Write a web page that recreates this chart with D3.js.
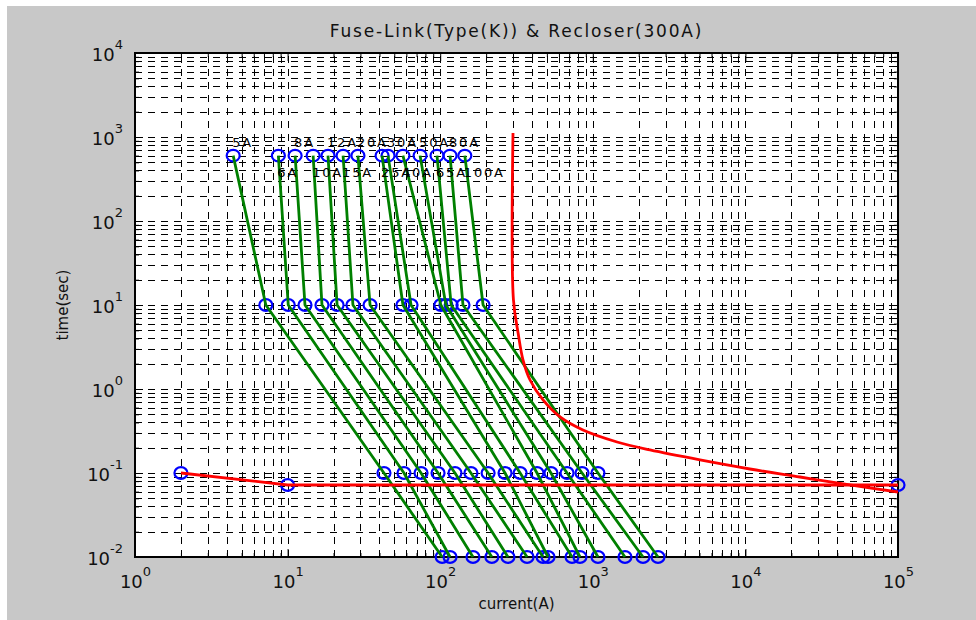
<!DOCTYPE html>
<html>
<head>
<meta charset="utf-8">
<script src="https://cdn.jsdelivr.net/npm/d3@7"></script>
<style>
  body { margin: 0; background: #fff; }
  svg { display: block; }
</style>
</head>
<body>
<div id="chart"></div>
<script>
// Fuse-link (type K) curves: current (A) at each time point
const fuseLabels = ['5A', '6A', '8A', '10A', '12A', '15A', '20A', '25A', '30A', '40A', '50A', '65A', '80A', '100A'];
const fuseTimes = [600, 10, 0.1, 0.01];
const fuseCurrent600 = [4.4, 8.7, 11.2, 14.7, 18.4, 23.1, 28.9, 41.6, 45.5, 57, 73.8, 95.3, 116, 145];
const fuseCurrent10 = [7.2, 10.1, 13.0, 16.8, 21.1, 26.8, 34.7, 57, 64.4, 101, 109, 118, 141, 191];
const fuseCurrent01 = [42.8, 57.9, 74.9, 96.8, 125, 159, 206, 266, 334, 431, 532, 678, 850, 1081];
const fuseCurrent001 = [103, 116, 164, 218, 278, 371, 472, 509, 731, 824, 1081, 1625, 2133, 2675];
const labelRowTimes = [850, 380]; // upper / lower label rows

// Recloser (300A): fast curve and slow (inverse) curve
const recloserFastCurrent = [2, 10, 100000];
const recloserFastTime = [0.1, 0.072, 0.072];
const recloserSlowCurrent = [300, 302, 324, 349, 388, 472, 610, 862, 1442, 2370, 5040, 10700, 22800, 48400, 100000];
const recloserSlowTime = [1117, 11.5, 4.64, 2.21, 1.28, 0.74, 0.465, 0.325, 0.234, 0.188, 0.143, 0.1116, 0.0896, 0.072, 0.0594];

const xDomain = [1, 100000];
const yDomain = [0.01, 10000];

const W = 976, H = 620;
const margin = { top: 53, right: 78, bottom: 63, left: 135 };
const iw = W - margin.left - margin.right;
const ih = H - margin.top - margin.bottom;
const font = '"DejaVu Sans", Verdana, sans-serif';

const svg = d3.select('#chart').append('svg')
  .attr('width', W).attr('height', H);

// figure background (MATLAB grey)
svg.append('rect').attr('x', 7).attr('y', 6).attr('width', W - 7).attr('height', H - 6)
  .attr('fill', '#c8c8c8');

const g = svg.append('g').attr('transform', `translate(${margin.left},${margin.top})`);
g.append('rect').attr('width', iw).attr('height', ih).attr('fill', '#fff');

const x = d3.scaleLog().domain(xDomain).range([0, iw]);
const y = d3.scaleLog().domain(yDomain).range([ih, 0]);

const xTicks = x.ticks();
const yTicks = y.ticks();
const isDecade = v => Math.abs(Math.log10(v) - Math.round(Math.log10(v))) < 1e-9;

// dashed grid, major + minor
const gGrid = g.append('g').attr('class', 'grid')
  .attr('stroke', '#000').attr('stroke-width', 1).attr('stroke-dasharray', '7,6');
gGrid.selectAll('line.vx').data(xTicks).join('line').attr('class', 'vx')
  .attr('x1', d => Math.round(x(d)) + 0.5).attr('x2', d => Math.round(x(d)) + 0.5)
  .attr('y1', ih).attr('y2', 0);
gGrid.selectAll('line.hy').data(yTicks).join('line').attr('class', 'hy')
  .attr('y1', d => Math.round(y(d)) + 0.5).attr('y2', d => Math.round(y(d)) + 0.5)
  .attr('x1', 0).attr('x2', iw);

// axes with inward ticks
function styleAxis(sel, horiz, sign) {
  sel.select('.domain').remove();
  sel.selectAll('.tick line')
    .attr('stroke', '#000')
    .attr(horiz ? 'y2' : 'x2', d => sign * (isDecade(d) ? 8 : 4));
}

const gxB = g.append('g').attr('transform', `translate(0,${ih})`)
  .call(d3.axisBottom(x).tickValues(xTicks).tickSizeOuter(0).tickFormat(d => isDecade(d) ? '10' : ''))
  .call(s => styleAxis(s, true, -1));
g.append('g')
  .call(d3.axisTop(x).tickValues(xTicks).tickSizeOuter(0).tickFormat(''))
  .call(s => styleAxis(s, true, 1));
const gyL = g.append('g')
  .call(d3.axisLeft(y).tickValues(yTicks).tickSizeOuter(0).tickFormat(d => isDecade(d) ? '10' : ''))
  .call(s => styleAxis(s, false, 1));
g.append('g').attr('transform', `translate(${iw},0)`)
  .call(d3.axisRight(y).tickValues(yTicks).tickSizeOuter(0).tickFormat(''))
  .call(s => styleAxis(s, false, -1));

// 10^n labels with superscript exponent
function powerLabels(sel) {
  sel.selectAll('.tick text')
    .filter(d => isDecade(d))
    .each(function (d) {
      const t = d3.select(this);
      t.text(null);
      t.append('tspan').text('10');
      t.append('tspan').attr('dy', -12).attr('font-size', 13).text(Math.round(Math.log10(d)));
    });
}
gxB.selectAll('.tick text')
  .attr('y', 31).attr('dy', 0).attr('fill', '#111')
  .attr('font-family', font).attr('font-size', 18).attr('text-anchor', 'middle');
gxB.call(powerLabels);
gyL.selectAll('.tick text')
  .attr('x', -12).attr('y', 7).attr('dy', 0).attr('fill', '#111')
  .attr('font-family', font).attr('font-size', 18).attr('text-anchor', 'end');
gyL.call(powerLabels);

// box
g.append('rect').attr('width', iw).attr('height', ih)
  .attr('fill', 'none').attr('stroke', '#000').attr('stroke-width', 2);

// series
const fuseCurves = fuseLabels.map((name, i) => ({
  name,
  points: [fuseCurrent600[i], fuseCurrent10[i], fuseCurrent01[i], fuseCurrent001[i]]
    .map((c, k) => ({ c, t: fuseTimes[k] }))
}));
const fastPts = recloserFastCurrent.map((c, i) => ({ c, t: recloserFastTime[i] }));
const slowPts = recloserSlowCurrent.map((c, i) => ({ c, t: recloserSlowTime[i] }));

const line = d3.line().x(d => x(d.c)).y(d => y(d.t));
const smooth = d3.line().x(d => x(d.c)).y(d => y(d.t)).curve(d3.curveCatmullRom.alpha(0.5));

const gPlot = g.append('g');

// markers first, lines drawn over them
const markerPts = fuseCurves.flatMap(f => f.points).concat(fastPts);
gPlot.append('g').selectAll('ellipse').data(markerPts).join('ellipse')
  .attr('cx', d => x(d.c)).attr('cy', d => y(d.t))
  .attr('rx', 6.5).attr('ry', 5.8)
  .attr('fill', 'none').attr('stroke', '#0000ff').attr('stroke-width', 2.2);

gPlot.append('g').selectAll('path').data(fuseCurves).join('path')
  .attr('d', d => line(d.points))
  .attr('fill', 'none').attr('stroke', '#008000').attr('stroke-width', 2.8)
  .attr('stroke-linejoin', 'round');

gPlot.append('path').attr('d', line(fastPts))
  .attr('fill', 'none').attr('stroke', '#ff0000').attr('stroke-width', 2.8);
gPlot.append('path').attr('d', smooth(slowPts))
  .attr('fill', 'none').attr('stroke', '#ff0000').attr('stroke-width', 2.8);

// fuse rating labels, alternating rows
gPlot.append('g').selectAll('text').data(fuseCurves).join('text')
  .attr('x', (d, i) => x(fuseCurrent600[i]) - 1)
  .attr('y', (d, i) => y(labelRowTimes[i % 2]))
  .attr('dy', '0.35em')
  .attr('font-family', font).attr('font-size', 13).attr('letter-spacing', 1.8)
  .attr('fill', '#000')
  .text(d => d.name);

// titles
svg.append('text').attr('x', margin.left + iw / 2).attr('y', 37)
  .attr('text-anchor', 'middle').attr('font-family', font).attr('font-size', 17)
  .attr('letter-spacing', 1.8).attr('fill', '#111')
  .text('Fuse-Link(Type(K)) & Recloser(300A)');
svg.append('text').attr('x', margin.left + iw / 2).attr('y', 609)
  .attr('text-anchor', 'middle').attr('font-family', font).attr('font-size', 15)
  .attr('fill', '#111').text('current(A)');
svg.append('text').attr('transform', `translate(68,${margin.top + ih / 2}) rotate(-90)`)
  .attr('text-anchor', 'middle').attr('font-family', font).attr('font-size', 15)
  .attr('fill', '#111').text('time(sec)');
</script>
</body>
</html>
